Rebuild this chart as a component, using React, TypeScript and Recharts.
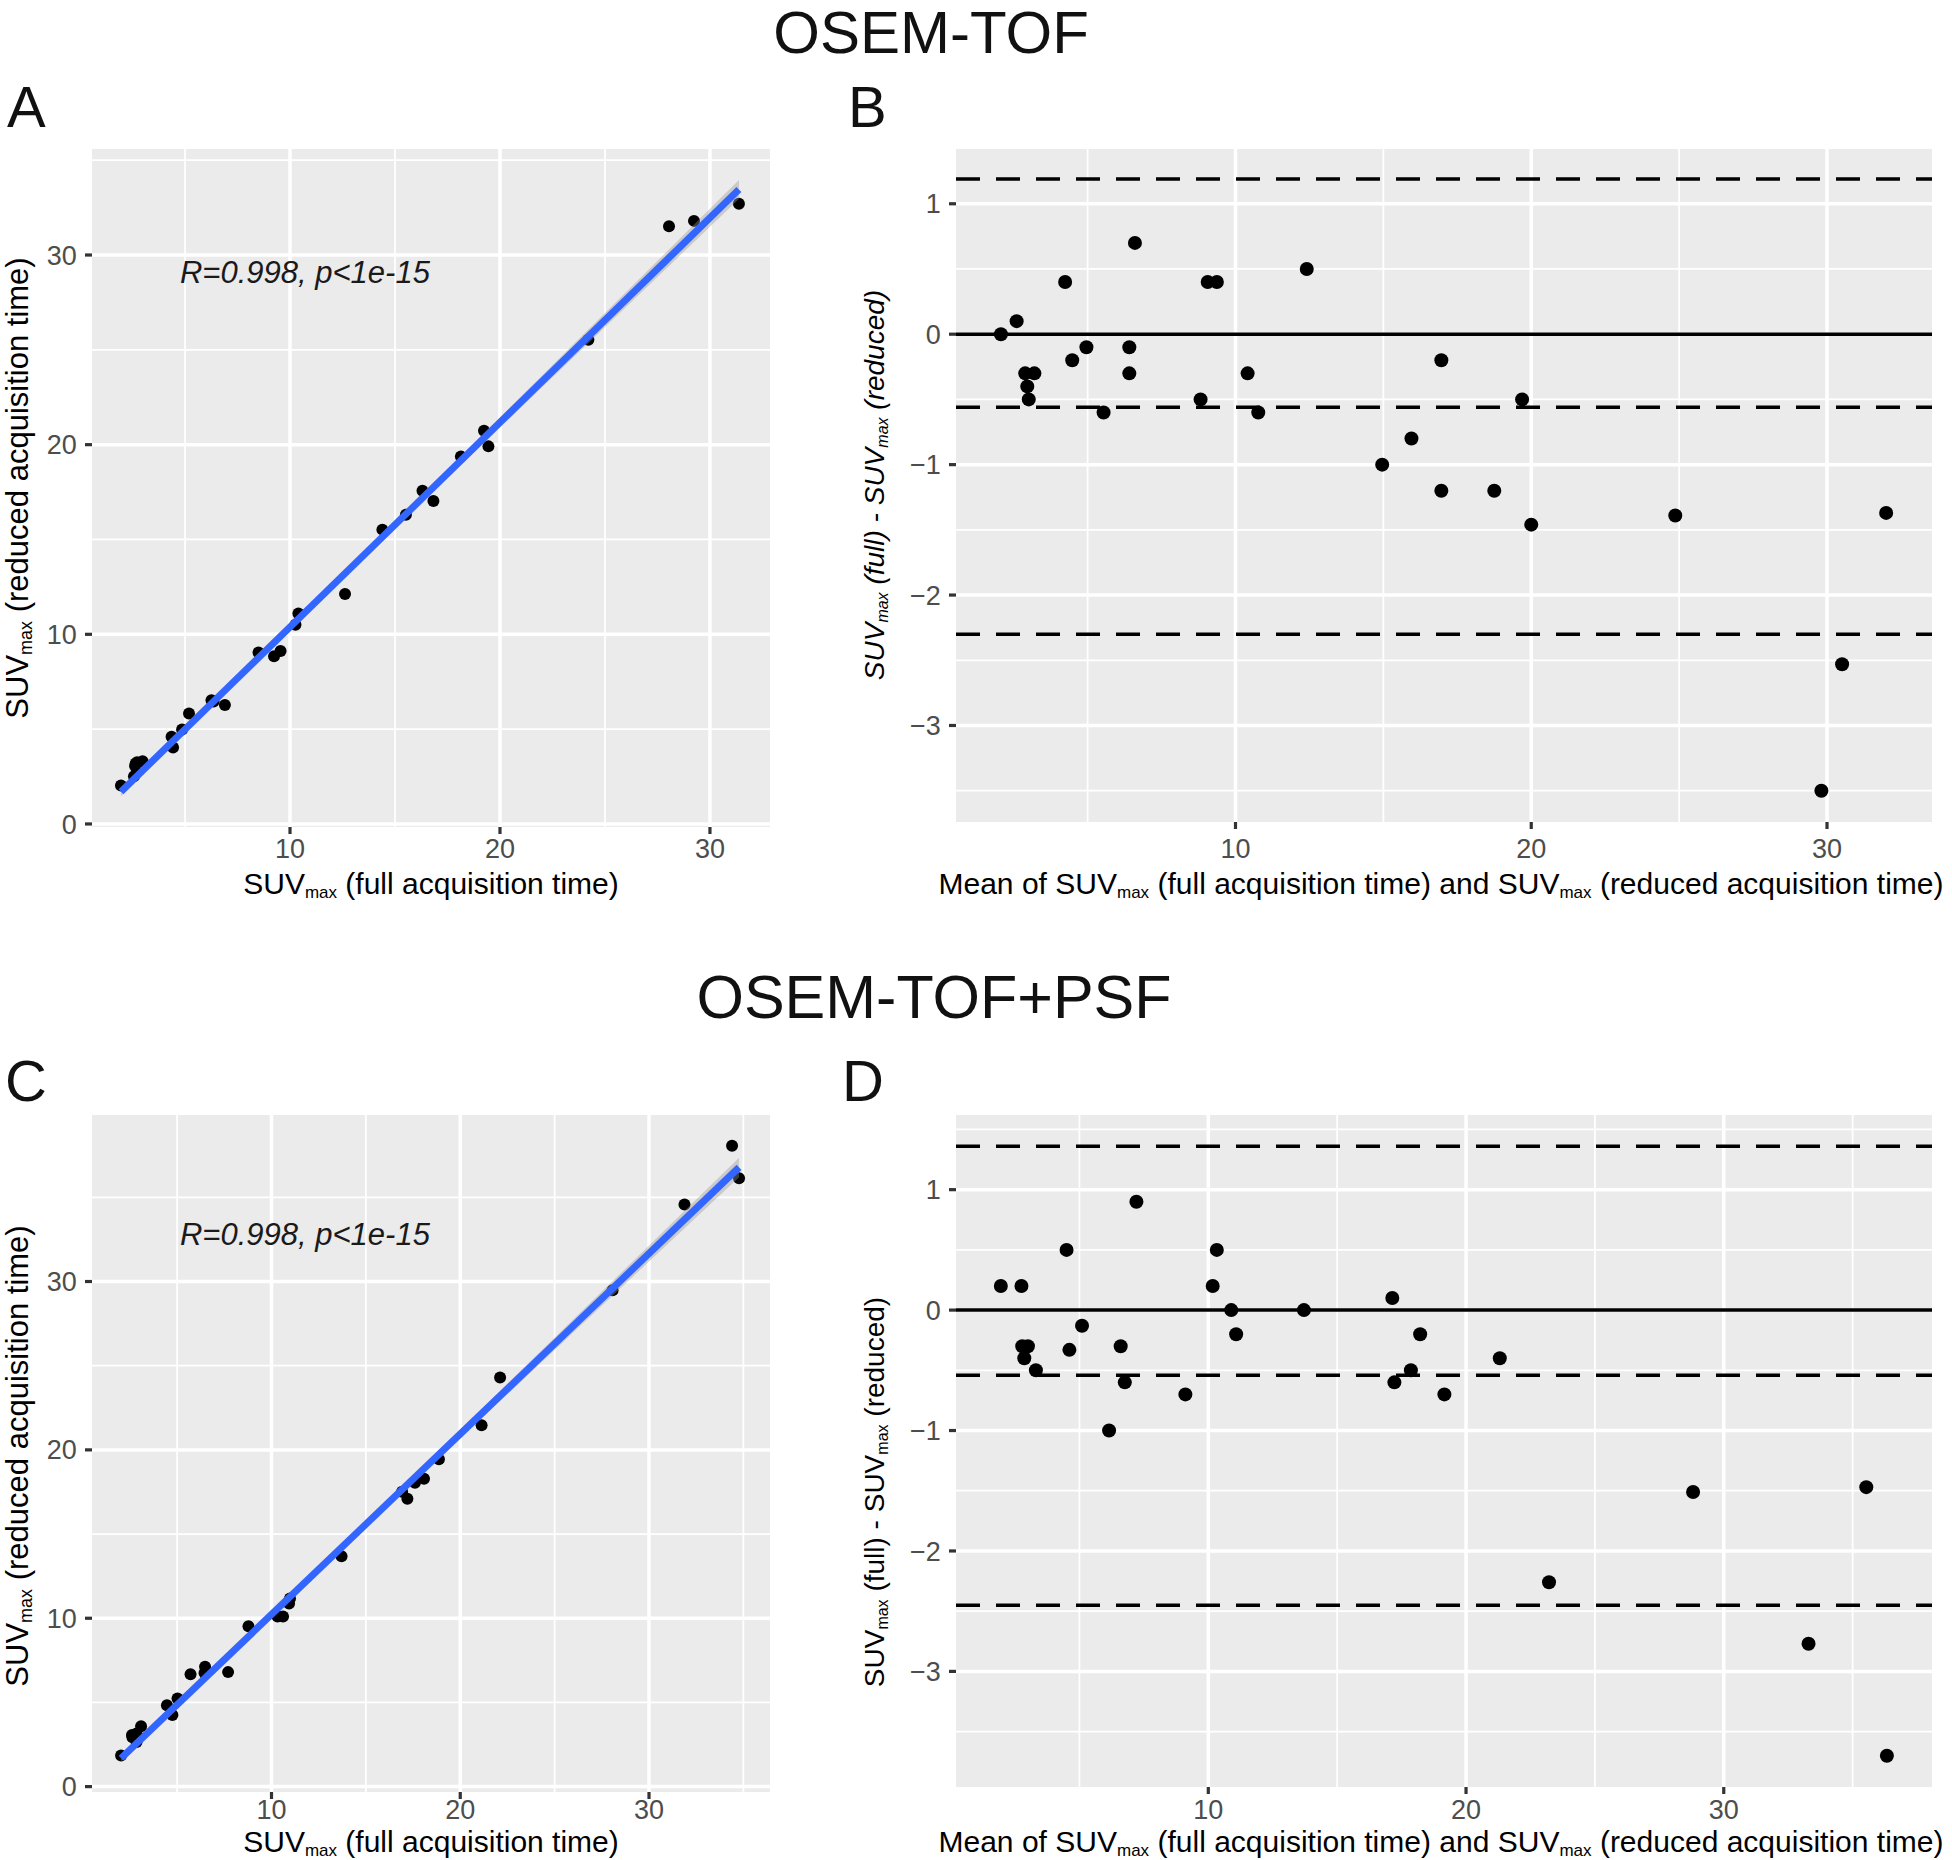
import React from "react";
import {
  ComposedChart,
  Scatter,
  Line,
  Area,
  XAxis,
  YAxis,
  CartesianGrid,
  ReferenceLine,
} from "recharts";

const FONT = '"Liberation Sans", Arial, Helvetica, sans-serif';

// A: OSEM-TOF, SUVmax full vs reduced acquisition time
const aFull = [1.95, 2.57, 2.62, 2.65, 2.72, 2.98, 4.43, 4.36, 4.86, 5.19, 6.26, 6.36, 6.9, 8.5, 9.24, 9.55, 10.26, 10.4, 12.62, 14.4, 15.52, 16.31, 16.83, 18.14, 19.24, 19.45, 24.21, 28.05, 29.24, 31.38];
const aReduced = [2.03, 2.52, 3.05, 3.19, 3.26, 3.31, 4.03, 4.6, 4.98, 5.83, 6.52, 6.46, 6.27, 9.04, 8.84, 9.12, 10.51, 11.1, 12.12, 15.52, 16.31, 17.57, 17.03, 19.37, 20.73, 19.91, 25.53, 31.52, 31.8, 32.7];
const aFitX = [1.95, 31.38];
const aFitY = [1.7, 33.45];
const aBandX = [1.95, 11.6, 31.38];
const aBandLow = [1.46, 12.0, 32.95];
const aBandHigh = [1.94, 12.2, 33.96];

// B: OSEM-TOF, Bland-Altman
const bMean = [2.07, 2.6, 2.89, 2.96, 3.01, 3.2, 4.24, 4.48, 4.96, 5.54, 6.41, 6.41, 6.6, 8.82, 9.06, 9.37, 10.41, 10.77, 12.41, 14.96, 15.95, 16.96, 16.96, 18.75, 19.69, 20.0, 24.87, 29.81, 30.51, 32.0];
const bDiff = [0, 0.1, -0.3, -0.4, -0.5, -0.3, 0.4, -0.2, -0.1, -0.6, -0.1, -0.3, 0.7, -0.5, 0.4, 0.4, -0.3, -0.6, 0.5, -1.0, -0.8, -0.2, -1.2, -1.2, -0.5, -1.46, -1.39, -3.5, -2.53, -1.37];
const bBias = -0.56;
const bLimits = [1.19, -2.3];

// C: OSEM-TOF+PSF, SUVmax full vs reduced acquisition time
const cFull = [2.03, 2.61, 2.63, 2.85, 2.85, 3.09, 4.46, 4.75, 5.02, 5.71, 6.45, 6.48, 7.7, 8.78, 10.32, 10.61, 10.93, 10.98, 13.71, 16.92, 17.2, 17.6, 18.08, 18.87, 21.13, 22.11, 28.07, 31.88, 34.77, 34.4];
const cReduced = [1.85, 3.07, 2.93, 2.65, 3.15, 3.59, 4.83, 4.25, 5.24, 6.68, 6.75, 7.12, 6.8, 9.52, 10.1, 10.1, 10.88, 11.18, 13.68, 17.52, 17.1, 18.05, 18.28, 19.44, 21.46, 24.3, 29.48, 34.57, 36.13, 38.07];
const cFitX = [2.03, 34.77];
const cFitY = [1.68, 36.78];
const cBandX = [2.03, 12.5, 34.77];
const cBandLow = [1.51, 12.8, 36.2];
const cBandHigh = [1.85, 13.0, 37.35];

// D: OSEM-TOF+PSF, Bland-Altman
const dMean = [1.95, 2.75, 2.78, 2.86, 3.0, 3.31, 4.5, 4.61, 5.1, 6.15, 6.6, 6.76, 7.21, 9.11, 10.17, 10.33, 10.89, 11.08, 13.71, 17.14, 17.22, 17.86, 18.22, 19.16, 21.31, 23.22, 28.81, 33.29, 35.53, 36.33];
const dDiff = [0.2, 0.2, -0.3, -0.4, -0.3, -0.5, 0.5, -0.33, -0.13, -1.0, -0.3, -0.6, 0.9, -0.7, 0.2, 0.5, 0, -0.2, 0, 0.1, -0.6, -0.5, -0.2, -0.7, -0.4, -2.26, -1.51, -2.77, -1.47, -3.7];
const dBias = -0.54;
const dLimits = [1.36, -2.45];

const corrNote = "R=0.998, p<1e-15";

const theme = {
  panel: "#EBEBEB",
  grid: "#FFFFFF",
  tickText: "#4D4D4D",
  tickLine: "#333333",
  fit: "#3366FF",
  ribbon: "#999999",
};

type Pt = { x: number; y: number };
type BandPt = { x: number; band: [number, number] };

const zip = (xs: number[], ys: number[]): Pt[] => xs.map((x, i) => ({ x, y: ys[i] }));
const toBand = (xs: number[], lo: number[], hi: number[]): BandPt[] =>
  xs.map((x, i) => ({ x, band: [lo[i], hi[i]] }));

const fmt = (v: number) => (v < 0 ? `\u2212${Math.abs(v)}` : `${v}`);

interface PanelProps {
  left: number;
  top: number;
  width: number;
  height: number;
  marginTop: number;
  marginRight: number;
  yAxisWidth: number;
  xAxisHeight: number;
  xTickMargin: number;
  xDomain: [number, number];
  yDomain: [number, number];
  xTicks: number[];
  yTicks: number[];
  xMinor: number[];
  yMinor: number[];
  points: Pt[];
  dotRadius: number;
  fit?: Pt[];
  ribbon?: BandPt[];
  note?: Pt;
  bias?: number;
  limits?: number[];
}

function Panel(p: PanelProps) {
  const tickStyle = { fill: theme.tickText, fontSize: 27, fontFamily: FONT };
  const tickLine = { stroke: theme.tickLine, strokeWidth: 3.2 };
  return (
    <div style={{ position: "absolute", left: p.left, top: p.top }}>
      <ComposedChart
        width={p.width}
        height={p.height}
        margin={{ top: p.marginTop, right: p.marginRight, bottom: 0, left: 0 }}
      >
        {/* minor grid + panel background, then major grid */}
        <CartesianGrid
          fill={theme.panel}
          stroke={theme.grid}
          strokeWidth={1.75}
          horizontalValues={p.yMinor}
          verticalValues={p.xMinor}
          syncWithTicks
        />
        <CartesianGrid stroke={theme.grid} strokeWidth={3.5} syncWithTicks />
        <XAxis
          type="number"
          dataKey="x"
          domain={p.xDomain}
          ticks={p.xTicks}
          interval={0}
          allowDataOverflow
          height={p.xAxisHeight}
          tickSize={7}
          tickMargin={p.xTickMargin}
          tickLine={tickLine}
          axisLine={false}
          tick={tickStyle}
          tickFormatter={fmt}
        />
        <YAxis
          type="number"
          dataKey="y"
          domain={p.yDomain}
          ticks={p.yTicks}
          interval={0}
          allowDataOverflow
          width={p.yAxisWidth}
          tickSize={7}
          tickMargin={8.3}
          tickLine={tickLine}
          axisLine={false}
          tick={tickStyle}
          tickFormatter={fmt}
        />
        {p.bias !== undefined && (
          <ReferenceLine y={0} stroke="#000" strokeWidth={3.5} />
        )}
        {p.bias !== undefined && (
          <ReferenceLine y={p.bias} stroke="#000" strokeWidth={3.5} strokeDasharray="24 16" />
        )}
        {(p.limits || []).map((v) => (
          <ReferenceLine key={v} y={v} stroke="#000" strokeWidth={3.5} strokeDasharray="24 16" />
        ))}
        <Scatter
          data={p.points}
          dataKey="y"
          isAnimationActive={false}
          zIndex={50}
          shape={(s: any) => <circle cx={s.cx} cy={s.cy} r={p.dotRadius} fill="#000" />}
        />
        {p.ribbon && (
          <Area
            data={p.ribbon}
            dataKey="band"
            type="linear"
            stroke="none"
            fill={theme.ribbon}
            fillOpacity={0.4}
            isAnimationActive={false}
          />
        )}
        {p.fit && (
          <Line
            data={p.fit}
            dataKey="y"
            type="linear"
            stroke={theme.fit}
            strokeWidth={7}
            dot={false}
            activeDot={false}
            isAnimationActive={false}
          />
        )}
        {p.note && (
          <Scatter
            data={[p.note]}
            dataKey="y"
            isAnimationActive={false}
            shape={(s: any) => (
              <text
                x={s.cx}
                y={s.cy}
                fontSize={31}
                fontStyle="italic"
                fontFamily={FONT}
                fill="#1a1a1a"
              >
                {corrNote}
              </text>
            )}
          />
        )}
      </ComposedChart>
    </div>
  );
}

type Part = [string, boolean];

function AxisTitle({
  x,
  y,
  size,
  parts,
  vertical = false,
  italic = false,
  fitWidth,
}: {
  x: number;
  y: number;
  size: number;
  parts: Part[];
  vertical?: boolean;
  italic?: boolean;
  fitWidth?: number;
}) {
  const sub = Math.round(size * 0.58);
  const shift = size * 0.13;
  return (
    <text
      x={x}
      y={y}
      textAnchor="middle"
      fontSize={size}
      fontStyle={italic ? "italic" : "normal"}
      fill="#000"
      transform={vertical ? `rotate(-90 ${x} ${y})` : undefined}
      textLength={fitWidth}
      lengthAdjust={fitWidth ? "spacingAndGlyphs" : undefined}
      style={{ whiteSpace: "pre" }}
    >
      {parts.map(([t, isSub], i) => {
        const prevSub = i > 0 && parts[i - 1][1];
        const dy = isSub ? shift : prevSub ? -shift : 0;
        return (
          <tspan key={i} fontSize={isSub ? sub : size} dy={dy}>
            {t}
          </tspan>
        );
      })}
    </text>
  );
}

const fullTitle: Part[] = [["SUV", false], ["max", true], [" (full acquisition time)", false]];
const reducedTitle: Part[] = [["SUV", false], ["max", true], [" (reduced acquisition time)", false]];
const meanTitle: Part[] = [
  ["Mean of SUV", false],
  ["max", true],
  [" (full acquisition time) and SUV", false],
  ["max", true],
  [" (reduced acquisition time)", false],
];
const diffTitle: Part[] = [
  ["SUV", false],
  ["max", true],
  [" (full) - SUV", false],
  ["max", true],
  [" (reduced)", false],
];

export default function App() {
  return (
    <div
      style={{
        position: "relative",
        width: 1952,
        height: 1860,
        background: "#fff",
        fontFamily: FONT,
        overflow: "hidden",
      }}
    >
      <style>{"body{margin:0}"}</style>

      <Panel
        left={0}
        top={140}
        width={780}
        height={770}
        marginTop={9}
        marginRight={10}
        yAxisWidth={92}
        xAxisHeight={83}
        xTickMargin={4.8}
        xDomain={[0.57, 32.86]}
        yDomain={[-0.16, 35.59]}
        xTicks={[10, 20, 30]}
        yTicks={[0, 10, 20, 30]}
        xMinor={[5, 15, 25]}
        yMinor={[5, 15, 25, 35]}
        points={zip(aFull, aReduced)}
        dotRadius={6}
        fit={zip(aFitX, aFitY)}
        ribbon={toBand(aBandX, aBandLow, aBandHigh)}
        note={{ x: 4.76, y: 28.5 }}
      />
      <Panel
        left={850}
        top={140}
        width={1102}
        height={770}
        marginTop={9}
        marginRight={20}
        yAxisWidth={106}
        xAxisHeight={88}
        xTickMargin={10.3}
        xDomain={[0.55, 33.55]}
        yDomain={[-3.74, 1.42]}
        xTicks={[10, 20, 30]}
        yTicks={[-3, -2, -1, 0, 1]}
        xMinor={[5, 15, 25]}
        yMinor={[-3.5, -2.5, -1.5, -0.5, 0.5]}
        points={zip(bMean, bDiff)}
        dotRadius={7}
        bias={bBias}
        limits={bLimits}
      />
      <Panel
        left={0}
        top={1100}
        width={780}
        height={760}
        marginTop={15}
        marginRight={10}
        yAxisWidth={92}
        xAxisHeight={68}
        xTickMargin={0.5}
        xDomain={[0.49, 36.41]}
        yDomain={[-0.32, 39.89]}
        xTicks={[10, 20, 30]}
        yTicks={[0, 10, 20, 30]}
        xMinor={[5, 15, 25, 35]}
        yMinor={[5, 15, 25, 35]}
        points={zip(cFull, cReduced)}
        dotRadius={6}
        fit={zip(cFitX, cFitY)}
        ribbon={toBand(cBandX, cBandLow, cBandHigh)}
        note={{ x: 5.15, y: 32.14 }}
      />
      <Panel
        left={850}
        top={1100}
        width={1102}
        height={760}
        marginTop={15}
        marginRight={20}
        yAxisWidth={106}
        xAxisHeight={73}
        xTickMargin={5.5}
        xDomain={[0.21, 38.08]}
        yDomain={[-3.96, 1.62]}
        xTicks={[10, 20, 30]}
        yTicks={[-3, -2, -1, 0, 1]}
        xMinor={[5, 15, 25, 35]}
        yMinor={[-3.5, -2.5, -1.5, -0.5, 0.5, 1.5]}
        points={zip(dMean, dDiff)}
        dotRadius={7}
        bias={dBias}
        limits={dLimits}
      />

      {/* titles, panel letters and axis titles */}
      <svg
        width={1952}
        height={1860}
        style={{ position: "absolute", left: 0, top: 0, pointerEvents: "none" }}
        fontFamily={FONT}
      >
        <text x={931} y={53} textAnchor="middle" fontSize={60} fill="#111">
          OSEM-TOF
        </text>
        <text x={934} y={1018} textAnchor="middle" fontSize={61} fill="#111">
          OSEM-TOF+PSF
        </text>
        <text x={7} y={127} fontSize={58} fill="#111">A</text>
        <text x={848} y={127} fontSize={58} fill="#111">B</text>
        <text x={5} y={1101} fontSize={58} fill="#111">C</text>
        <text x={842} y={1101} fontSize={58} fill="#111">D</text>

        <AxisTitle x={431} y={894} size={30} parts={fullTitle} />
        <AxisTitle x={28} y={488} size={31} parts={reducedTitle} vertical />
        <AxisTitle x={1441} y={894} size={30} parts={meanTitle} fitWidth={1005} />
        <AxisTitle x={884} y={485} size={28} parts={diffTitle} vertical italic />

        <AxisTitle x={431} y={1852} size={30} parts={fullTitle} />
        <AxisTitle x={28} y={1456} size={31} parts={reducedTitle} vertical />
        <AxisTitle x={1441} y={1852} size={30} parts={meanTitle} fitWidth={1005} />
        <AxisTitle x={884} y={1492} size={28} parts={diffTitle} vertical />
      </svg>
    </div>
  );
}
